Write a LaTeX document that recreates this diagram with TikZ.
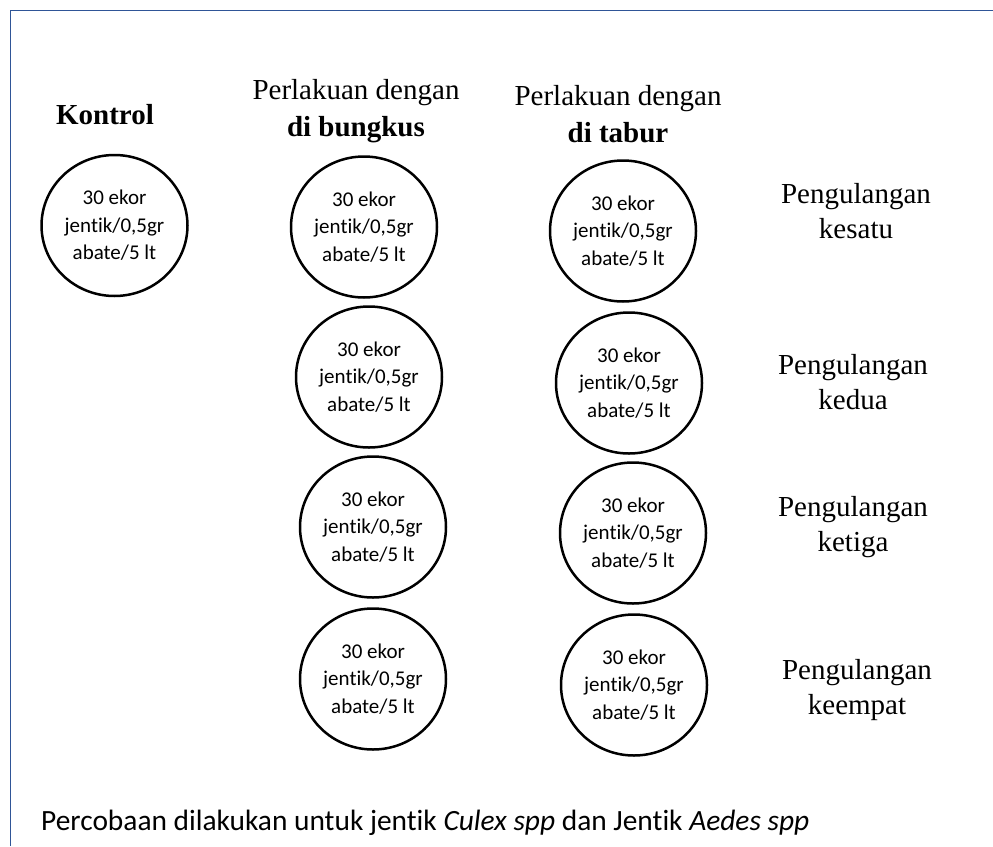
\documentclass[tikz,border=0pt]{standalone}
\usepackage{fontspec}
\setmainfont{Liberation Serif}
\newfontfamily\calibri[Ligatures={NoCommon,NoContextual}]{Carlito}
\usepackage{xcolor}
\usetikzlibrary{shapes.geometric}
\usetikzlibrary{positioning}

\definecolor{frameblue}{RGB}{47,85,151}

\tikzset{
  wadah/.style={ellipse,draw,line width=2.5pt,minimum width=146pt,minimum height=141pt,inner sep=0pt,
    align=center,font=\calibri\fontsize{21}{27.5}\selectfont},
  judul/.style={align=center,inner sep=0pt,font=\fontsize{29}{37}\selectfont},
  ulang/.style={align=center,inner sep=0pt,font=\fontsize{29}{35}\selectfont}
}

\newcommand{\isi}{30 ekor\\jentik/0,5gr\\abate/5 lt}

\begin{document}
\begin{tikzpicture}[x=1pt,y=-1pt]
	\useasboundingbox (0,0) rectangle (993,846);

	% frame
	\draw[frameblue,line width=1.8pt] (10.5,846) -- (10.5,10.5) -- (993,10.5);

	% headings
	\node[judul,anchor=base] (kontrol) at (105,124) {\textbf{Kontrol}};
	\node[judul] (bungkus) at (356,111) {Perlakuan dengan\\\textbf{di bungkus}};
	\node[judul] (tabur) at (618,114) {Perlakuan dengan\\\textbf{di tabur}};

	% kontrol
	\node[wadah] (k0) at (114.5,225.5) {\isi};

	% di bungkus
	\node[wadah] (b1) at (364,227) {\isi};
	\node[wadah] (b2) at (369,377) {\isi};
	\node[wadah] (b3) at (373,527) {\isi};
	\node[wadah] (b4) at (373,679) {\isi};

	% di tabur
	\node[wadah] (t1) at (623,231) {\isi};
	\node[wadah] (t2) at (629,383) {\isi};
	\node[wadah] (t3) at (633,533) {\isi};
	\node[wadah] (t4) at (634,685) {\isi};

	% pengulangan
	\node[ulang] (u1) at (856,211) {Pengulangan\\kesatu};
	\node[ulang] (u2) at (853,382) {Pengulangan\\kedua};
	\node[ulang] (u3) at (853,527) {Pengulangan\\ketiga};
	\node[ulang] (u4) at (857,690) {Pengulangan\\keempat};

	% keterangan
	\node[anchor=base west,inner sep=0pt,font=\calibri\fontsize{29.4}{34}\selectfont] (ket) at (41,830)
		{Percobaan dilakukan untuk jentik \textit{Culex spp} dan Jentik \textit{Aedes spp}};
\end{tikzpicture}
\end{document}
